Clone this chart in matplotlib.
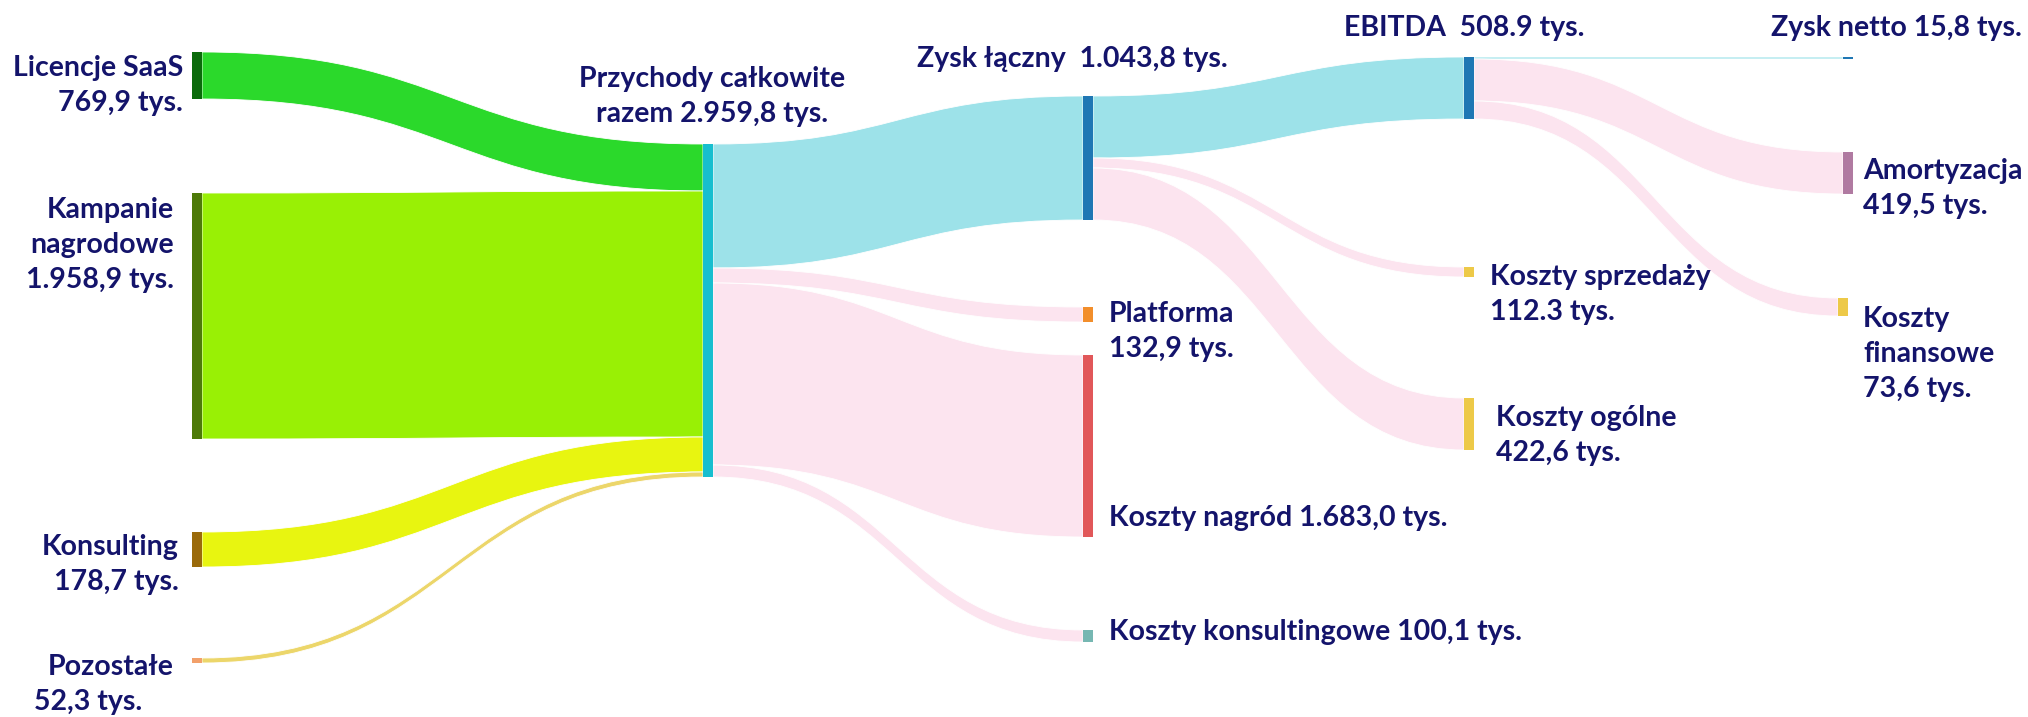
import matplotlib
matplotlib.use('Agg')

import matplotlib.pyplot as plt
import matplotlib.patches as patches
from matplotlib.path import Path

# --- data -------------------------------------------------------------
node_names = [
    "Licencje SaaS", "Kampanie nagrodowe", "Konsulting", "Pozostałe",
    "Przychody całkowite", "Zysk łączny", "Platforma", "Koszty nagród",
    "Koszty konsultingowe", "EBITDA", "Koszty sprzedaży", "Koszty ogólne",
    "Zysk netto", "Amortyzacja", "Koszty finansowe",
]

# label text shown next to each node
node_labels = [
    ["Licencje SaaS", "769,9 tys."],
    ["Kampanie", "nagrodowe", "1.958,9 tys."],
    ["Konsulting", "178,7 tys."],
    ["Pozostałe", "52,3 tys."],
    ["Przychody całkowite", "razem 2.959,8 tys."],
    ["Zysk łączny  1.043,8 tys."],
    ["Platforma", "132,9 tys."],
    ["Koszty nagród 1.683,0 tys."],
    ["Koszty konsultingowe 100,1 tys."],
    ["EBITDA  508.9 tys."],
    ["Koszty sprzedaży", "112.3 tys."],
    ["Koszty ogólne", "422,6 tys."],
    ["Zysk netto 15,8 tys."],
    ["Amortyzacja", "419,5 tys."],
    ["Koszty", "finansowe", "73,6 tys."],
]

# flows (widths as drawn in the picture, relative units)
link_source = [0, 1, 2, 3, 4, 4, 4, 4, 5, 5, 5, 9, 9, 9]
link_target = [4, 4, 4, 4, 5, 6, 7, 8, 9, 10, 11, 12, 13, 14]
link_value = [47, 246, 35, 5, 124, 15, 182, 12, 62, 10, 52, 2, 42, 18]

# --- styles -----------------------------------------------------------
node_colors = [
    '#0b6b0b', '#4d7a08', '#9a6a0a', '#f2a06a', '#17becf', '#1f77b4',
    '#f28e2b', '#e15759', '#76b7b2', '#1f77b4', '#edc948', '#edc948',
    '#1f77b4', '#b07aa1', '#edc948',
]
CYAN = '#9de2e9'
PINK = '#fce4ef'
link_colors = ['#2bd92b', '#99f005', '#e8f510', '#ecd66a',
               CYAN, PINK, PINK, PINK, CYAN, PINK, PINK, CYAN, PINK, PINK]
TEXT_COLOR = '#14146b'
FONT_SIZE = 20.5

# layout (pixels in a 2028x717 canvas)
NODE_W = 10
SCALE = 1.0
node_left = [192, 192, 192, 192, 703, 1083, 1083, 1083, 1083,
             1464, 1464, 1464, 1843, 1843, 1838]
node_top = [52, 193, 532, 658, 144, 96, 307, 355, 630,
            57, 267, 398, 57, 152, 298]

# label anchor: (x or per-line x, y of first line, alignment)
label_pos = [
    (183, 68, 'right'), (174, 210, 'right'), (179, 547, 'right'),
    ((48, 34), 667, 'left'), (712, 79, 'center'), (1072, 59, 'center'),
    (1109, 314, 'left'), (1109, 518, 'left'), (1109, 632, 'left'),
    (1464, 28, 'center'), (1490, 277, 'left'), (1496, 418, 'left'),
    (2022, 28, 'right'), (1863, 171, 'left'), (1863, 319, 'left'),
]
LINE_STEP = 35

fig = plt.figure(figsize=(20.28, 7.17), dpi=100)
ax = fig.add_axes([0, 0, 1, 1])
ax.set_xlim(0, 2028)
ax.set_ylim(717, 0)
ax.axis('off')

n = len(node_names)
inflow = [0] * n
outflow = [0] * n
for s, t, v in zip(link_source, link_target, link_value):
    outflow[s] += v
    inflow[t] += v

out_off = [0.0] * n
in_off = [0.0] * n

# links
for s, t, v, c in zip(link_source, link_target, link_value, link_colors):
    w = v * SCALE
    x0 = node_left[s] + NODE_W
    x1 = node_left[t]
    sy0 = node_top[s] + out_off[s]
    ty0 = node_top[t] + in_off[t]
    sy1, ty1 = sy0 + w, ty0 + w
    out_off[s] += w
    in_off[t] += w
    xm = (x0 + x1) / 2
    verts = [(x0, sy0), (xm, sy0), (xm, ty0), (x1, ty0),
             (x1, ty1), (xm, ty1), (xm, sy1), (x0, sy1), (x0, sy0)]
    codes = [Path.MOVETO, Path.CURVE4, Path.CURVE4, Path.CURVE4,
             Path.LINETO, Path.CURVE4, Path.CURVE4, Path.CURVE4, Path.CLOSEPOLY]
    ax.add_patch(patches.PathPatch(Path(verts, codes), facecolor=c,
                                   edgecolor='white', linewidth=0.6, zorder=1))

# nodes
for i in range(n):
    h = max(inflow[i], outflow[i]) * SCALE
    ax.add_patch(patches.Rectangle((node_left[i], node_top[i]), NODE_W, h,
                                   facecolor=node_colors[i], edgecolor='none', zorder=2))

# labels
for lines, (x, y, ha) in zip(node_labels, label_pos):
    xs = x if isinstance(x, tuple) else (x,) * len(lines)
    for k, line in enumerate(lines):
        ax.text(xs[k], y + k * LINE_STEP, line, ha=ha, va='center',
                fontsize=FONT_SIZE, fontweight='bold', color=TEXT_COLOR,
                family=['Lato', 'DejaVu Sans'], zorder=3)

fig.savefig('out.png', dpi=100)
